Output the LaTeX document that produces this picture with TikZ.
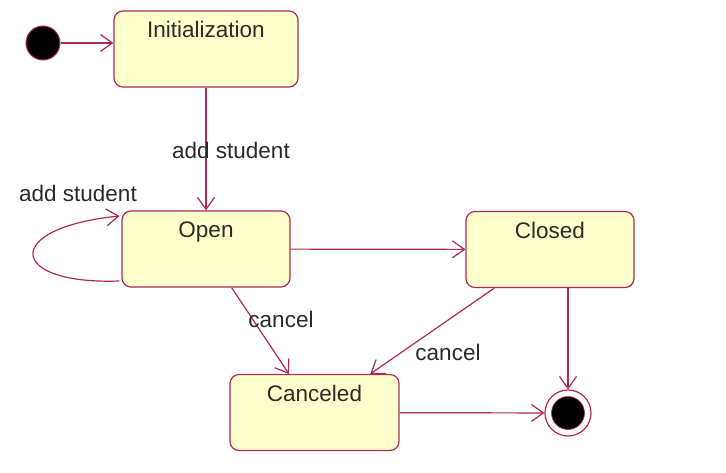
\documentclass[tikz,border=0pt]{standalone}
\usepackage{fontspec}
\setmainfont{Liberation Sans}
\usetikzlibrary{arrows.meta}
\definecolor{umlred}{HTML}{B0285A}
\definecolor{umlfill}{HTML}{FFFFCC}
\definecolor{umltext}{HTML}{2A2A2A}

\begin{document}
\begin{tikzpicture}[x=1pt,y=-1pt,
  font=\fontsize{22.5}{27}\selectfont,
  state/.style={draw=umlred, fill=umlfill, line width=1.2pt, rounded corners=9pt,
    text=umltext, inner sep=0pt, text height=27pt, text depth=49pt, minimum width=#1},
  state/.default=168pt,
  trans/.style={draw=umlred, line width=1.2pt, -{Straight Barb[length=12pt,width=17pt,line width=1.2pt]}},
  lbl/.style={text=umltext, inner sep=0pt}]
 \useasboundingbox (0,0) rectangle (726,473);
 \fill[white] (0,0) rectangle (726,473);
	% states
	\node[state=184pt] (init) at (206,49) {Initialization};
	\node[state] (open) at (206,249) {Open};
	\node[state] (closed) at (550,249.5) {Closed};
	\node[state=169pt] (canceled) at (314.5,412.5) {Canceled};
	\node[circle, draw=umlred, fill=black, line width=1pt, minimum size=34pt, inner sep=0pt] (start) at (43,43) {};
	\node[circle, draw=umlred, fill=white, line width=1.2pt, minimum size=46pt, inner sep=0pt] (fin) at (568,413) {};
	\node[circle, draw=umlred, fill=black, line width=0.6pt, minimum size=33pt, inner sep=0pt] (findot) at (fin) {};
	\coordinate (loopb) at ([yshift=-32pt,xshift=-2pt]open.west);
	\coordinate (loopt) at ([yshift=33pt,xshift=-2pt]open.west);
	% transitions
	\draw[trans] (start) -- (init.west |- start);
	\draw[trans] (init) -- (open);
	\draw[trans] (loopb) .. controls +(-112,4) and +(-118,12) .. (loopt);
	\draw[trans] (open) -- (closed);
	\draw[trans] (open) -- (canceled);
	\draw[trans] (closed) -- (canceled);
	\draw[trans] (closed.south -| fin) -- (fin);
	\draw[trans] (canceled) -- (fin);
	% labels
	\node[lbl] (lblinit) at (231,150) {add student};
	\node[lbl] (lblloop) at (78,193) {add student};
	\node[lbl] (lblopen) at (281,319) {cancel};
	\node[lbl] (lblclosed) at (448,352) {cancel};
\end{tikzpicture}
\end{document}
